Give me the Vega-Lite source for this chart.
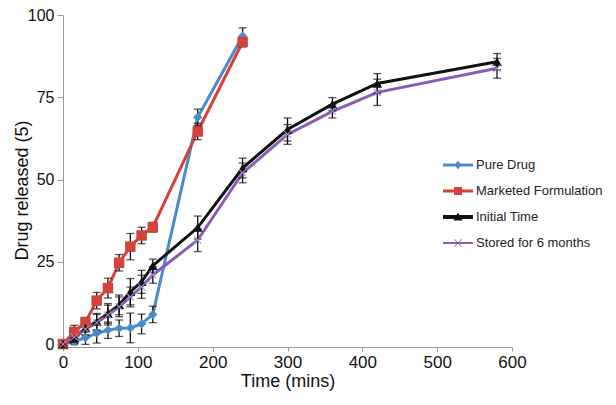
{
  "$schema": "https://vega.github.io/schema/vega-lite/v6.json",
  "width": 449,
  "height": 332,
  "autosize": "none",
  "padding": {"left": 63, "top": 15, "right": 104, "bottom": 58},
  "background": "white",
  "config": {"view": {"stroke": null}, "font": "Liberation Sans"},
  "data": {"values": [
    {"series": "Pure Drug", "time": 0, "release": 0, "sd": 0},
    {"series": "Pure Drug", "time": 15, "release": 0.8, "sd": 1},
    {"series": "Pure Drug", "time": 30, "release": 1.9, "sd": 2},
    {"series": "Pure Drug", "time": 45, "release": 3.3, "sd": 3},
    {"series": "Pure Drug", "time": 60, "release": 4.2, "sd": 2.5},
    {"series": "Pure Drug", "time": 75, "release": 4.8, "sd": 2.5},
    {"series": "Pure Drug", "time": 90, "release": 4.9, "sd": 4.5},
    {"series": "Pure Drug", "time": 105, "release": 6.1, "sd": 3},
    {"series": "Pure Drug", "time": 120, "release": 9.0, "sd": 2.5},
    {"series": "Pure Drug", "time": 180, "release": 68.9, "sd": 2.5},
    {"series": "Pure Drug", "time": 240, "release": 93.6, "sd": 2.5},
    {"series": "Marketed Formulation", "time": 0, "release": 0, "sd": 0},
    {"series": "Marketed Formulation", "time": 15, "release": 3.7, "sd": 2},
    {"series": "Marketed Formulation", "time": 30, "release": 6.6, "sd": 1.5},
    {"series": "Marketed Formulation", "time": 45, "release": 13.2, "sd": 2.5},
    {"series": "Marketed Formulation", "time": 60, "release": 17.0, "sd": 3},
    {"series": "Marketed Formulation", "time": 75, "release": 24.7, "sd": 2.5},
    {"series": "Marketed Formulation", "time": 90, "release": 29.6, "sd": 4},
    {"series": "Marketed Formulation", "time": 105, "release": 33.0, "sd": 2.5},
    {"series": "Marketed Formulation", "time": 120, "release": 35.5, "sd": 1.5},
    {"series": "Marketed Formulation", "time": 180, "release": 64.6, "sd": 2.5},
    {"series": "Marketed Formulation", "time": 240, "release": 91.8, "sd": 1.5},
    {"series": "Initial Time", "time": 0, "release": 0, "sd": 0},
    {"series": "Initial Time", "time": 15, "release": 1.7, "sd": 1.5},
    {"series": "Initial Time", "time": 30, "release": 4.8, "sd": 2},
    {"series": "Initial Time", "time": 45, "release": 6.8, "sd": 2.5},
    {"series": "Initial Time", "time": 60, "release": 9.3, "sd": 3},
    {"series": "Initial Time", "time": 75, "release": 11.9, "sd": 3},
    {"series": "Initial Time", "time": 90, "release": 15.9, "sd": 4},
    {"series": "Initial Time", "time": 105, "release": 18.9, "sd": 3.5},
    {"series": "Initial Time", "time": 120, "release": 23.8, "sd": 2},
    {"series": "Initial Time", "time": 180, "release": 35.4, "sd": 3.5},
    {"series": "Initial Time", "time": 240, "release": 53.5, "sd": 3},
    {"series": "Initial Time", "time": 300, "release": 65.2, "sd": 3.5},
    {"series": "Initial Time", "time": 360, "release": 72.9, "sd": 2},
    {"series": "Initial Time", "time": 420, "release": 79.2, "sd": 3},
    {"series": "Initial Time", "time": 580, "release": 85.8, "sd": 2.5},
    {"series": "Stored for 6 months", "time": 0, "release": 0, "sd": 0},
    {"series": "Stored for 6 months", "time": 15, "release": 2.2, "sd": 2},
    {"series": "Stored for 6 months", "time": 30, "release": 4.5, "sd": 2},
    {"series": "Stored for 6 months", "time": 45, "release": 6.5, "sd": 2.5},
    {"series": "Stored for 6 months", "time": 60, "release": 8.8, "sd": 3},
    {"series": "Stored for 6 months", "time": 75, "release": 11.3, "sd": 3},
    {"series": "Stored for 6 months", "time": 90, "release": 14.3, "sd": 3},
    {"series": "Stored for 6 months", "time": 105, "release": 17.4, "sd": 3.5},
    {"series": "Stored for 6 months", "time": 120, "release": 21.0, "sd": 2.5},
    {"series": "Stored for 6 months", "time": 180, "release": 31.6, "sd": 3.5},
    {"series": "Stored for 6 months", "time": 240, "release": 52.0, "sd": 3},
    {"series": "Stored for 6 months", "time": 300, "release": 63.7, "sd": 3},
    {"series": "Stored for 6 months", "time": 360, "release": 70.7, "sd": 2},
    {"series": "Stored for 6 months", "time": 420, "release": 76.5, "sd": 4},
    {"series": "Stored for 6 months", "time": 580, "release": 83.8, "sd": 3}
  ]},
  "encoding": {
    "x": {
      "field": "time", "type": "quantitative",
      "scale": {"domain": [0, 600], "nice": false},
      "axis": {
        "title": "Time (mins)", "values": [0, 100, 200, 300, 400, 500, 600],
        "grid": false, "domainColor": "#999999", "tickColor": "#999999", "tickSize": 4,
        "labelFontSize": 17, "labelColor": "#111111", "labelPadding": 3, "labelFlush": false,
        "titleFontSize": 18, "titleFontWeight": "normal", "titleColor": "#111111",
        "titleBaseline": "alphabetic", "titleY": 39
      }
    },
    "y": {
      "field": "release", "type": "quantitative",
      "scale": {"domain": [-0.9, 100], "nice": false, "zero": false},
      "axis": {
        "title": "Drug released (5)", "values": [0, 25, 50, 75, 100],
        "grid": false, "domainColor": "#999999", "tickColor": "#999999", "tickSize": 6,
        "labelFontSize": 16, "labelColor": "#111111", "labelPadding": 3,
        "titleFontSize": 18, "titleFontWeight": "normal", "titleColor": "#111111",
        "titleBaseline": "alphabetic", "titleAlign": "center", "titleAngle": 270,
        "titleX": -36, "titleY": 175
      }
    }
  },
  "layer": [
    {
      "mark": {"type": "line", "strokeWidth": 3},
      "encoding": {
        "color": {
          "field": "series", "type": "nominal",
          "scale": {
            "domain": ["Pure Drug", "Marketed Formulation", "Initial Time", "Stored for 6 months"],
            "range": ["#4b8bcb", "#d4423b", "#111111", "#8a5cb8"]
          },
          "legend": {
            "orient": "none", "legendX": 385, "legendY": 140, "title": null,
            "symbolSize": 400, "labelFontSize": 13, "labelColor": "#222222", "labelOffset": 8,
            "rowPadding": 9, "padding": 0, "symbolStrokeWidth": 0, "symbolOpacity": 1,
            "encode": {
              "symbols": {
                "update": {
                  "shape": {"signal": "datum.value === 'Pure Drug' ? 'M-1.5,-0.14H1.5V0.14H-1.5Z M0,-0.42L0.35,0L0,0.42L-0.35,0Z' : datum.value === 'Marketed Formulation' ? 'M-1.5,-0.14H1.5V0.14H-1.5Z M-0.4,-0.4H0.4V0.4H-0.4Z' : datum.value === 'Initial Time' ? 'M-1.5,-0.19H1.5V0.19H-1.5Z M0,-0.45L0.45,0.35H-0.45Z' : 'M-1.5,-0.11H1.5V0.11H-1.5Z M-0.4,-0.35L-0.35,-0.4L0.4,0.35L0.35,0.4Z M0.35,-0.4L0.4,-0.35L-0.35,0.4L-0.4,0.35Z'"},
                  "fill": {"scale": "color", "field": "value"},
                  "strokeWidth": {"value": 0},
                  "opacity": {"value": 1}
                }
              }
            }
          }
        }
      }
    },
    {
      "mark": {"type": "errorbar", "ticks": {"size": 8}, "color": "#111111", "thickness": 1.3},
      "encoding": {"yError": {"field": "sd"}}
    },
    {
      "transform": [{"filter": {"field": "series", "equal": "Pure Drug"}}],
      "mark": {"type": "point", "filled": true, "opacity": 1, "size": 85, "shape": "diamond", "color": "#4b8bcb"}
    },
    {
      "transform": [{"filter": {"field": "series", "equal": "Marketed Formulation"}}],
      "mark": {"type": "point", "filled": true, "opacity": 1, "size": 110, "shape": "square", "color": "#d4423b"}
    },
    {
      "transform": [{"filter": {"field": "series", "equal": "Initial Time"}}],
      "mark": {"type": "point", "filled": true, "opacity": 1, "size": 95, "shape": "triangle-up", "color": "#111111"}
    },
    {
      "transform": [{"filter": {"field": "series", "equal": "Stored for 6 months"}}],
      "mark": {"type": "point", "filled": true, "opacity": 1, "size": 60, "shape": "M-1,-0.8L-0.8,-1L1,0.8L0.8,1Z M0.8,-1L1,-0.8L-0.8,1L-1,0.8Z", "color": "#a58bcf"}
    }
  ]
}
